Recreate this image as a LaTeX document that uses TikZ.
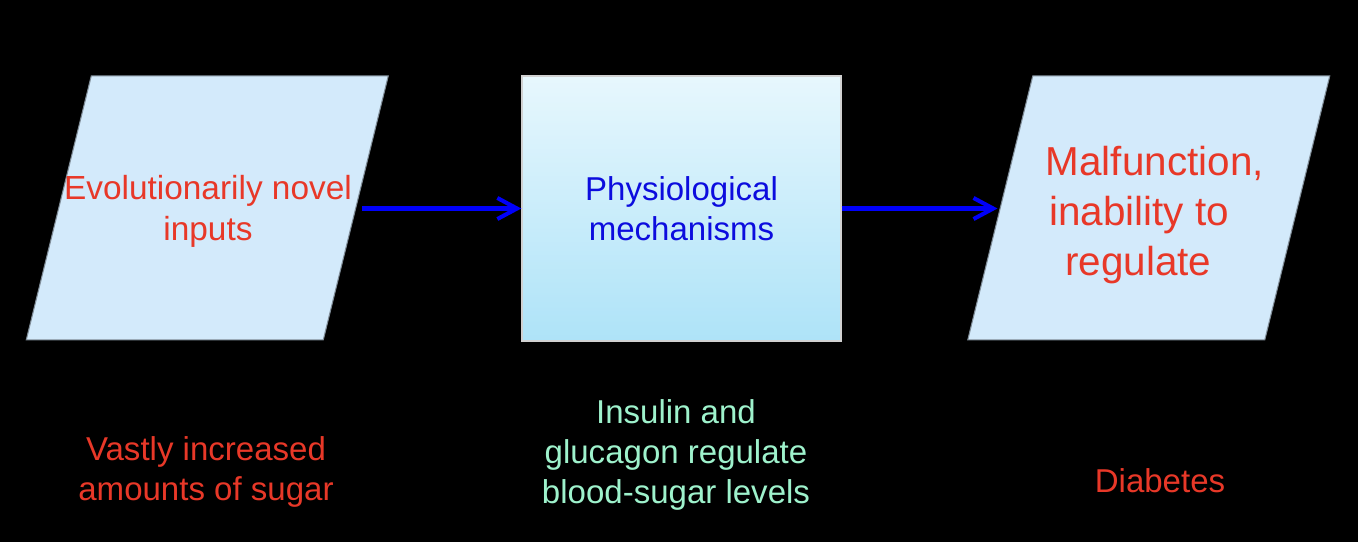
\documentclass[tikz,border=0pt]{standalone}
\usepackage{fontspec}
\setmainfont{Liberation Sans}
\usetikzlibrary{arrows.meta}
\definecolor{inred}{RGB}{232,56,40}
\definecolor{paleblue}{RGB}{211,234,251}
\definecolor{boxtop}{RGB}{231,247,253}
\definecolor{boxbot}{RGB}{174,227,248}
\definecolor{mechblue}{RGB}{12,12,222}
\definecolor{arrowblue}{RGB}{0,0,250}
\definecolor{mint}{RGB}{158,242,204}
\pgfdeclarelayer{back}
\pgfsetlayers{back,main}

\begin{document}
\begin{tikzpicture}[x=0.1mm, y=-0.1mm,
  lean/.style={minimum width=2.97cm, minimum height=2.64cm, inner sep=0pt,
               align=center},
  mech/.style={minimum width=3.19cm, minimum height=2.65cm, inner sep=0pt,
               draw=black!18, line width=0.4pt, top color=boxtop,
               bottom color=boxbot, align=center},
  note/.style={align=center, font=\fontsize{9.4}{11.4}\selectfont},
  flow/.style={arrowblue, line width=1.15pt,
               -{Straight Barb[length=5.6pt,width=6pt]}}]
  \useasboundingbox (0,0) rectangle (1358,542);

  \node (evo)  [lean, text=inred, font=\fontsize{9.5}{11.7}\selectfont]
    at (208,208.5) {\raisebox{-1pt}[\height][\depth]{\begin{tabular}{@{}c@{}}
      Evolutionarily novel\\inputs\end{tabular}}};
  \node (phys) [mech, text=mechblue, font=\fontsize{9.4}{11.4}\selectfont]
    at (681.5,208.5) {Physiological\\mechanisms};
  \node (mal)  [lean, text=inred, font=\fontsize{11.5}{14.2}\selectfont]
    at (1149.5,208.5) {\raisebox{-2pt}[\height][\depth]{\begin{tabular}{@{}c@{}}
      \hspace*{3pt}Malfunction,\\inability to\hspace*{6pt}\\
      regulate\hspace*{6.3pt}\end{tabular}}};

  \node (sugar)    [note, text=inred] at (206,472)
    {Vastly increased\\amounts of sugar};
  \node (hormones) [note, text=mint]  at (676,455)
    {Insulin and\\glucagon regulate\\blood-sugar levels};
  \node (diabetes) [note, text=inred] at (1160,481) {Diabetes};

  % black page and slanted input/output boxes
  \begin{pgfonlayer}{back}
    \fill[black] (0,0) rectangle (1358,542);
    \filldraw[fill=paleblue, draw=paleblue!60!black, line width=0.3pt]
      (evo.north west) ++(32.5,0) -- ++(297,0) -- ++(-65,264)
      -- ++(-297,0) -- cycle;
    \filldraw[fill=paleblue, draw=paleblue!60!black, line width=0.3pt]
      (mal.north west) ++(32.5,0) -- ++(297,0) -- ++(-65,264)
      -- ++(-297,0) -- cycle;
  \end{pgfonlayer}

  \draw[flow, shorten <=1.5pt] (evo.east) -- (phys.west);
  \draw[flow, shorten >=0.8pt] (phys.east) -- (mal.west);
\end{tikzpicture}
\end{document}
